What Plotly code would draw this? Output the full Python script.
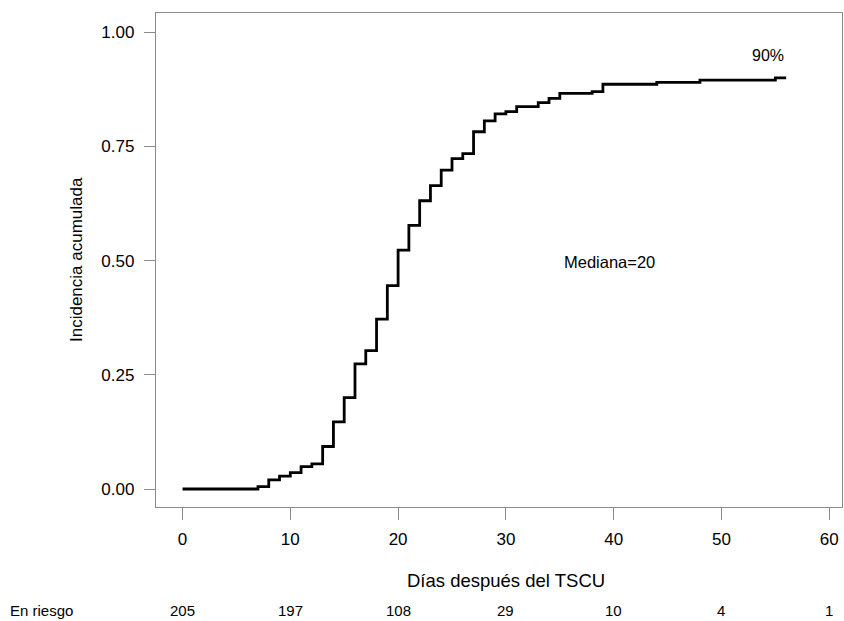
import plotly.graph_objects as go

# Cumulative incidence step curve (days after transplant)
dias = [0, 7, 8, 9, 10, 11, 12, 13, 14, 15, 16, 17, 18, 19, 20, 21, 22, 23,
        24, 25, 26, 27, 28, 29, 30, 31, 33, 34, 35, 38, 39, 44, 48, 55, 56]
incidencia = [0.000, 0.005, 0.020, 0.028, 0.036, 0.049, 0.055, 0.093, 0.147,
              0.200, 0.274, 0.303, 0.372, 0.445, 0.523, 0.577, 0.631, 0.664,
              0.698, 0.723, 0.734, 0.782, 0.806, 0.821, 0.826, 0.837, 0.846,
              0.855, 0.866, 0.870, 0.886, 0.890, 0.895, 0.900, 0.900]

# Number at risk table
tiempos_riesgo = [0, 10, 20, 30, 40, 50, 60]
en_riesgo = [205, 197, 108, 29, 10, 4, 1]

x_ticks = [0, 10, 20, 30, 40, 50, 60]
y_ticks = [0.0, 0.25, 0.50, 0.75, 1.0]
y_tick_labels = ["0.00", "0.25", "0.50", "0.75", "1.00"]

FONT = "Liberation Sans, Arial, sans-serif"
GRIS = "#8a8a8a"

fig = go.Figure()
fig.add_trace(go.Scatter(
    x=dias, y=incidencia, mode="lines",
    line=dict(shape="hv", color="black", width=2.8),
    hoverinfo="skip", showlegend=False,
))

W, H = 844, 621
L, R, T, B = 156, 2, 13, 114
plot_w = W - L - R
plot_h = H - T - B

fig.update_layout(
    width=W, height=H,
    margin=dict(l=L, r=R, t=T, b=B),
    paper_bgcolor="white", plot_bgcolor="white",
    font=dict(family=FONT, color="black"),
    showlegend=False,
)
fig.update_xaxes(
    range=[-2.46, 61.18], tickvals=x_ticks, ticktext=[str(v) for v in x_ticks],
    showgrid=False, zeroline=False,
    showline=True, mirror=True, linecolor=GRIS, linewidth=1.3,
    ticks="outside", ticklen=12, tickcolor=GRIS, tickwidth=1.3,
    tickfont=dict(size=17, family=FONT), ticklabelstandoff=4,
)
fig.update_yaxes(
    range=[-0.0394, 1.042], tickvals=y_ticks, ticktext=y_tick_labels,
    showgrid=False, zeroline=False,
    showline=True, mirror=True, linecolor=GRIS, linewidth=1.3,
    ticks="outside", ticklen=11, tickcolor=GRIS, tickwidth=1.3,
    tickfont=dict(size=17, family=FONT), ticklabelstandoff=6,
)


def px_to_paper_x(px):
    return (px - L) / plot_w


def py_to_paper_y(py):
    return (H - B - py) / plot_h


annotations = [
    dict(x=54.3, y=0.95, xref="x", yref="y", text="90%", showarrow=False,
         font=dict(size=16, family=FONT)),
    dict(x=39.6, y=0.497, xref="x", yref="y", text="Mediana=20", showarrow=False,
         font=dict(size=16.5, family=FONT)),
    dict(x=30, y=py_to_paper_y(580), xref="x", yref="paper",
         text="Días después del TSCU", showarrow=False,
         font=dict(size=18.5, family=FONT), yanchor="middle"),
    dict(x=px_to_paper_x(76), y=py_to_paper_y(260), xref="paper", yref="paper",
         text="Incidencia acumulada", showarrow=False, textangle=-90,
         font=dict(size=17, family=FONT), yanchor="middle", xanchor="center"),
    dict(x=px_to_paper_x(41), y=py_to_paper_y(610), xref="paper", yref="paper",
         text="En riesgo", showarrow=False,
         font=dict(size=15, family=FONT), yanchor="middle", xanchor="center"),
]
for t, n in zip(tiempos_riesgo, en_riesgo):
    annotations.append(dict(
        x=t, y=py_to_paper_y(610), xref="x", yref="paper", text=str(n),
        showarrow=False, font=dict(size=15, family=FONT), yanchor="middle",
    ))

fig.update_layout(annotations=annotations)
fig.write_html("out.html")
